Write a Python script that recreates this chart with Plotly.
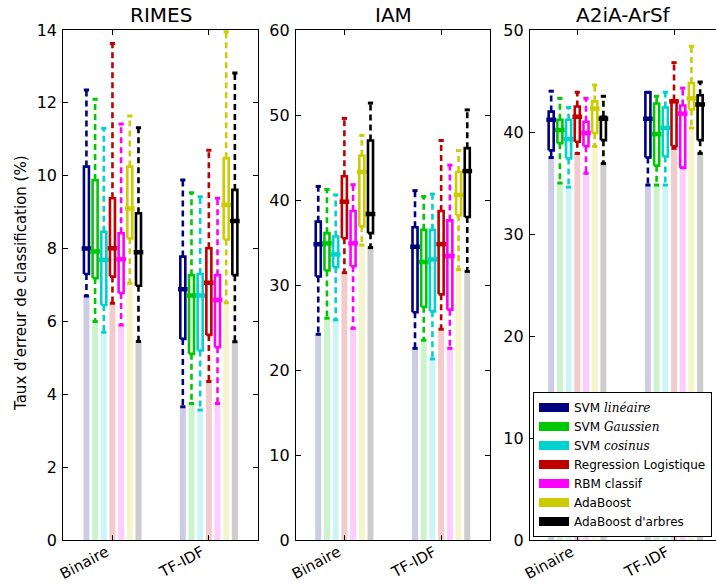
import plotly.graph_objects as go

# ---------------- data ----------------
methods = ["SVM lin", "SVM gau", "SVM cos", "Regression Logistique", "RBM classif", "AdaBoost", "AdaBoost d'arbres"]
legend_labels = [
    "SVM <span style=\"font-family:'DejaVu Serif';font-style:italic\">linéaire</span>",
    "SVM <span style=\"font-family:'DejaVu Serif';font-style:italic\">Gaussien</span>",
    "SVM <span style=\"font-family:'DejaVu Serif';font-style:italic\">cosinus</span>",
    "Regression Logistique",
    "RBM classif",
    "AdaBoost",
    "AdaBoost d'arbres",
]
datasets = ["RIMES", "IAM", "A2iA-ArSf"]
groups = ["Binaire", "TF-IDF"]

# per dataset: [Binaire values (7 methods), TF-IDF values (7 methods)]
rimes_min = [[6.7, 6.0, 5.7, 6.5, 5.9, 7.05, 5.45], [3.66, 3.75, 3.57, 4.35, 3.75, 6.51, 5.44]]
rimes_q1 = [[7.3, 7.19, 6.45, 7.23, 6.78, 8.28, 6.98], [5.52, 5.11, 5.2, 5.63, 5.29, 8.25, 7.27]]
rimes_med = [[8.0, 7.92, 7.69, 8.01, 7.71, 9.1, 7.9], [6.88, 6.71, 6.71, 7.06, 6.59, 9.2, 8.76]]
rimes_q3 = [[10.25, 9.88, 8.46, 9.38, 8.42, 10.25, 8.97], [7.78, 7.27, 7.3, 8.01, 7.27, 10.48, 9.61]]
rimes_max = [[12.35, 12.1, 11.3, 13.63, 11.42, 11.64, 11.32], [9.88, 9.53, 9.42, 10.7, 9.38, 13.95, 12.82]]

iam_min = [[24.2, 26.1, 25.9, 31.45, 24.9, 34.7, 34.4], [22.55, 23.5, 21.3, 24.8, 22.55, 31.8, 31.6]]
iam_q1 = [[31.0, 31.7, 32.1, 35.5, 32.2, 36.9, 36.1], [26.8, 27.45, 26.9, 28.9, 27.1, 38.2, 38.0]]
iam_med = [[34.8, 34.9, 33.6, 39.8, 34.9, 43.3, 38.35], [34.5, 32.7, 33.0, 34.8, 33.4, 40.6, 43.4]]
iam_q3 = [[37.45, 36.1, 35.7, 42.8, 38.7, 45.2, 47.0], [36.8, 36.5, 36.5, 38.7, 37.6, 43.3, 46.1]]
iam_max = [[41.6, 41.25, 40.6, 49.6, 41.8, 47.6, 51.4], [41.1, 40.4, 40.7, 47.0, 44.1, 45.8, 50.6]]

a2ia_min = [[37.5, 35.0, 34.6, 37.9, 35.95, 38.6, 36.9], [34.8, 34.8, 34.8, 38.4, 36.5, 40.4, 37.9]]
a2ia_q1 = [[38.2, 38.9, 37.4, 39.05, 38.6, 39.9, 39.2], [37.5, 36.7, 37.6, 38.6, 36.5, 42.2, 39.2]]
a2ia_med = [[41.2, 40.2, 39.3, 41.5, 39.9, 42.3, 41.3], [41.3, 39.8, 40.4, 43.0, 41.8, 43.3, 42.7]]
a2ia_q3 = [[42.0, 41.2, 41.2, 42.5, 41.0, 43.0, 41.5], [43.9, 42.8, 42.4, 43.1, 42.6, 44.8, 43.6]]
a2ia_max = [[44.0, 43.3, 42.4, 43.9, 43.3, 44.6, 43.5], [43.9, 43.5, 43.9, 46.8, 44.3, 48.4, 44.9]]

y_max = [14, 60, 50]
y_dtick = [2, 10, 10]

# ---------------- style ----------------
colors = ["#000080", "#00c800", "#00d2d2", "#c00000", "#ff00ff", "#cccc00", "#000000"]
faint = ["rgba(0,0,128,0.2)", "rgba(0,200,0,0.2)", "rgba(0,210,210,0.2)", "rgba(192,0,0,0.2)",
         "rgba(255,0,255,0.2)", "rgba(204,204,0,0.2)", "rgba(0,0,0,0.2)"]
spacing = 0.09
box_half = 0.026
med_half = 0.05
cap_half = 0.027
FONT = "DejaVu Sans"

stats = [
    (rimes_min, rimes_q1, rimes_med, rimes_q3, rimes_max),
    (iam_min, iam_q1, iam_med, iam_q3, iam_max),
    (a2ia_min, a2ia_q1, a2ia_med, a2ia_q3, a2ia_max),
]

fig = go.Figure()
suffix = ["", "2", "3"]

for k, (mn, q1, md, q3, mx) in enumerate(stats):
    xa = "x" + suffix[k]
    ya = "y" + suffix[k]
    for i in range(len(methods)):
        xs = [g + (i - 3) * spacing for g in range(len(groups))]
        # faint bars from 0 to the minimum
        fig.add_trace(go.Bar(x=xs, y=[mn[g][i] for g in range(2)], width=0.062,
                             marker=dict(color=faint[i], line=dict(width=0)),
                             xaxis=xa, yaxis=ya, showlegend=False, hoverinfo="skip"))
    for i in range(len(methods)):
        wx, wy, cx, cy, bx, by, mdx, mdy = [], [], [], [], [], [], [], []
        for g in range(len(groups)):
            x = g + (i - 3) * spacing
            wx += [x, x, None, x, x, None]
            wy += [q3[g][i], mx[g][i], None, q1[g][i], mn[g][i], None]
            cx += [x - cap_half, x + cap_half, None, x - cap_half, x + cap_half, None]
            cy += [mx[g][i], mx[g][i], None, mn[g][i], mn[g][i], None]
            bx += [x - box_half, x + box_half, x + box_half, x - box_half, x - box_half, None]
            by += [q1[g][i], q1[g][i], q3[g][i], q3[g][i], q1[g][i], None]
            mdx += [x - med_half, x + med_half, None]
            mdy += [md[g][i], md[g][i], None]
        fig.add_trace(go.Scatter(x=wx, y=wy, mode="lines", xaxis=xa, yaxis=ya, showlegend=False,
                                 line=dict(color=colors[i], width=2.6, dash="6px,4px"), hoverinfo="skip"))
        fig.add_trace(go.Scatter(x=cx, y=cy, mode="lines", xaxis=xa, yaxis=ya, showlegend=False,
                                 line=dict(color=colors[i], width=3), hoverinfo="skip"))
        fig.add_trace(go.Scatter(x=bx, y=by, mode="lines", xaxis=xa, yaxis=ya, showlegend=False,
                                 line=dict(color=colors[i], width=2.6), hoverinfo="skip"))
        fig.add_trace(go.Scatter(x=mdx, y=mdy, mode="lines", xaxis=xa, yaxis=ya, showlegend=False,
                                 line=dict(color=colors[i], width=4.5), hoverinfo="skip"))

# legend entries
for i in range(len(methods)):
    fig.add_trace(go.Scatter(x=[None], y=[None], mode="lines", name=legend_labels[i],
                             line=dict(color=colors[i], width=9), xaxis="x3", yaxis="y3"))

W, H = 716, 584
L, R, T, B = 63, 0, 30, 44
pw = W - L - R
ph = H - T - B
doms = [((63.3 - L) / pw, (258 - L) / pw), ((296 - L) / pw, (490 - L) / pw), ((530 - L) / pw, 1.0)]
xranges = [[-0.51, 1.51], [-0.5, 1.505], [-0.489, 1.434]]

axis_common = dict(showline=True, linecolor="black", linewidth=1.2, ticks="inside", ticklen=5,
                   tickcolor="black", showgrid=False, zeroline=False, automargin=False,
                   tickfont=dict(family=FONT, size=16, color="black"))
layout = dict(template="none", width=W, height=H, margin=dict(l=L, r=R, t=T, b=B, autoexpand=False),
              plot_bgcolor="white", paper_bgcolor="white", barmode="overlay",
              font=dict(family=FONT, color="black"),
              showlegend=True,
              legend=dict(x=(533 - L) / pw, y=(540 - 392) / ph, xanchor="left", yanchor="top",
                          bordercolor="black", borderwidth=1, bgcolor="white",
                          font=dict(family=FONT, size=12, color="black"), itemwidth=30,
                          tracegroupgap=0))
for k in range(3):
    layout["xaxis" + suffix[k]] = dict(axis_common, domain=list(doms[k]), range=xranges[k],
                                       anchor="y" + suffix[k], tickvals=[0, 1], showticklabels=False,
                                       mirror="allticks")
    layout["yaxis" + suffix[k]] = dict(axis_common, domain=[0, 1], range=[0, y_max[k]], dtick=y_dtick[k],
                                       anchor="x" + suffix[k], ticklabelstandoff=2,
                                       mirror="allticks" if k < 2 else False)
fig.update_layout(**layout)

for k in range(3):
    fig.add_annotation(text=datasets[k], xref="paper", yref="paper", xanchor="center",
                       x=(doms[k][0] + min(doms[k][1], (724 - L) / pw)) / 2,
                       y=1, yanchor="bottom", yshift=1, showarrow=False,
                       font=dict(family=FONT, size=20, color="black"))
    # rotated category labels
    for g, name in enumerate(groups):
        fig.add_annotation(text=name, xref="x" + suffix[k], yref="paper", x=g, y=0,
                           xanchor="right", yanchor="top", yshift=-1, xshift=0, borderpad=0,
                           textangle=-28, showarrow=False,
                           font=dict(family=FONT, size=15, color="black"))
fig.add_annotation(text="Taux d'erreur de classification (%)", xref="paper", yref="paper",
                   xanchor="center", yanchor="middle",
                   x=(21 - L) / pw, y=(540 - 283) / ph, textangle=-90, showarrow=False,
                   font=dict(family=FONT, size=15, color="black"))

fig.write_html("out.html", config={"displayModeBar": False},
               post_script="document.body.style.margin='0';document.body.style.overflow='hidden';")
